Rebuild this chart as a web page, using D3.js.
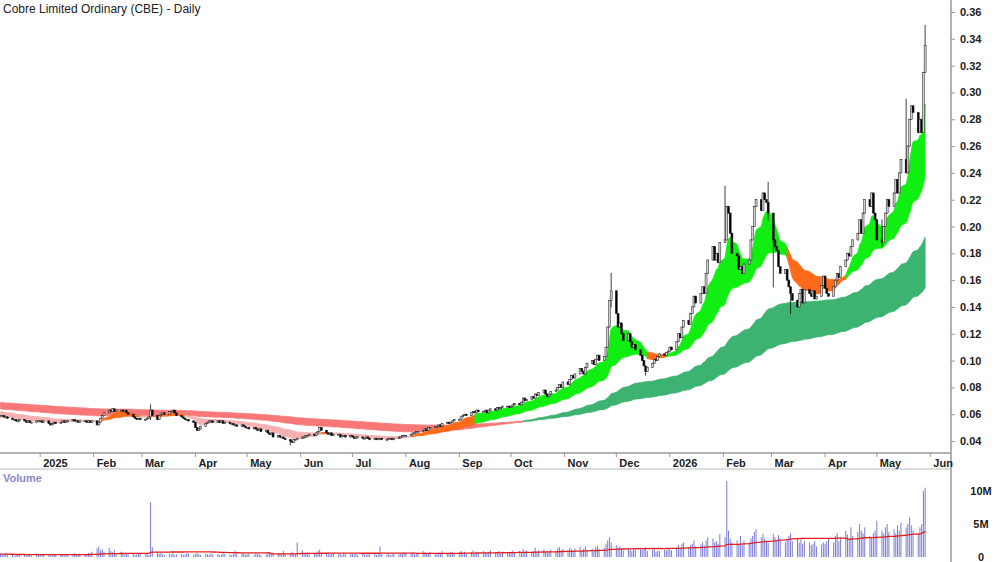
<!DOCTYPE html>
<html><head><meta charset="utf-8">
<script src="https://cdn.jsdelivr.net/npm/d3@7"></script>
<style>body{margin:0;background:#fff}svg{font-family:"Liberation Sans",Arial,sans-serif}</style>
</head><body><div id="chart"></div>
<script>
// closes in cents, one array per month (trading days from 2024-12-09)
const months = ["2024-12","2025-01","2025-02","2025-03","2025-04","2025-05","2025-06","2025-07","2025-08","2025-09","2025-10","2025-11","2025-12","2026-01","2026-02","2026-03","2026-04","2026-05"];
const closesByMonth = [
"5.9 5.9 5.8 5.8 5.7 5.6 5.6 5.5 5.5 5.6 5.5 5.4 5.5 5.4 5.4 5.5 5.5",
"5.5 5.4 5.5 5.3 5.2 5.3 5.4 5.3 5.4 5.5 5.4 5.5 5.5 5.6 5.5 5.5 5.4 5.5 5.5 5.4 5.5 5.4 5.5",
"5.2 5.4 5.7 5.9 6.1 6.3 6.2 6.4 6.2 6.3 6.3 6.2 6.3 6.1 6.0 5.8 5.7 5.6 5.7 5.6",
"5.6 5.7 5.8 6.3 5.9 5.6 5.9 6.0 6.1 6.0 6.2 6.2 6.3 6.1 5.9 5.8 5.7 5.6 5.6 5.5 5.4",
"5.0 4.8 4.9 5.1 5.3 5.4 5.5 5.5 5.4 5.5 5.4 5.5 5.3 5.4 5.3 5.3 5.2 5.2 5.1 5.2 5.1 5.0",
"5.0 4.9 5.0 4.9 4.8 4.9 4.7 4.8 4.6 4.5 4.6 4.3 4.4 4.3 4.3 4.2 4.1 4.0 3.9 4.1 4.1 4.2",
"4.3 4.3 4.4 4.4 4.5 4.4 4.6 4.7 5.0 4.8 4.6 4.5 4.6 4.4 4.5 4.5 4.3 4.4 4.4 4.3 4.4",
"4.3 4.2 4.3 4.3 4.2 4.2 4.3 4.2 4.1 4.2 4.1 4.2 4.2 4.1 4.1 4.2 4.2 4.1 4.2 4.3 4.3 4.4 4.4",
"4.4 4.5 4.6 4.6 4.7 4.7 4.8 4.9 4.8 5.0 5.0 5.1 5.1 5.2 5.1 5.3 5.4 5.3 5.4 5.5 5.6",
"5.6 5.8 5.9 6.0 5.9 6.1 6.2 6.1 6.3 6.2 6.2 6.3 6.1 6.3 6.4 6.3 6.5 6.4 6.5 6.6 6.6 6.5",
"6.6 6.7 6.8 6.7 6.9 7.2 7.0 7.1 7.3 7.2 7.5 7.4 7.6 7.8 7.5 7.3 7.5 7.7 7.8 8.0 8.2 8.0 8.4",
"8.2 8.6 8.9 8.7 9.0 9.4 9.2 9.0 9.5 9.8 10.0 9.7 10.1 10.4 10.0 10.3 11.0 12.5 14.5 15.2",
"13.5 12.5 12.8 12.0 11.5 12.0 11.4 11.0 11.2 10.8 10.4 10.0 9.6 9.2 9.5 9.8 10.1 10.0 10.3 10.5 10.4 10.6 10.7",
"11.0 10.8 11.4 12.0 11.7 12.5 13.0 12.7 13.5 14.0 14.8 14.3 15.0 15.5 15.0 16.5 17.5 18.5 17.5 18.0 17.3 18.8",
"19.0 21.5 21.0 19.5 18.0 17.8 16.8 17.0 16.5 17.2 17.5 19.0 20.0 21.5 22.0 21.2 22.5 22.0 21.8 21.0",
"19.0 18.5 18.2 17.0 16.5 16.8 16.0 15.5 15.0 14.5 14.0 15.0 15.3 14.3 15.3 15.0 14.8 15.2 14.6 14.8 15.6 16.3",
"15.4 15.0 14.8 15.5 16.0 16.5 16.2 17.0 17.5 18.0 17.8 18.5 19.0 19.5 20.5 19.5 21.0 22.0 21.5 22.5 21.0 20.5",
"19.0 18.8 20.0 21.0 22.0 21.5 22.5 23.5 22.5 24.0 25.0 24.0 26.0 28.0 29.0 28.5 27.0 28.0 27.0 31.5 33.5"
];
// volume in 0.1M units
const volumeByMonth = [
"5 4 3 6 4 3 2 4 3 5 3 2 4 3 2 6 4",
"4 3 5 3 2 4 3 5 3 4 2 5 3 4 6 3 4 5 3 4 6 5 8",
"13 16 10 12 8 14 9 7 11 6 8 5 4 6 4 5 3 4 5 6",
"4 5 3 83 15 7 5 6 4 3 5 4 6 3 4 5 3 4 6 5 3",
"5 6 4 3 5 4 3 6 4 5 3 4 6 5 4 3 5 10 4 6 5 4",
"4 5 3 6 4 5 3 4 6 5 4 7 5 6 4 9 5 6 8 5 4 22",
"10 6 5 7 4 5 6 9 11 6 5 7 4 5 6 4 5 3 6 4 5",
"5 4 6 3 5 4 3 6 4 5 3 4 16 5 4 6 3 4 5 4 6 5 7",
"6 5 8 4 6 5 9 7 5 6 8 4 6 7 5 9 6 5 8 7 6",
"7 9 6 8 5 7 10 6 8 5 9 7 6 8 10 6 7 9 5 8 7 6",
"8 10 7 9 6 12 8 10 7 9 14 8 10 12 7 9 8 11 9 13 15 10 12",
"10 14 12 9 13 15 10 12 16 11 13 10 15 17 12 14 20 25 30 22",
"18 14 16 12 10 13 11 9 12 10 14 11 13 15 9 11 12 8 10 9 11 10 12",
"12 10 15 18 12 20 22 15 18 20 25 16 19 22 17 25 30 28 22 24 20 35",
"30 115 40 28 22 25 20 32 18 25 22 28 32 38 42 30 35 28 25 22",
"35 30 25 33 28 22 27 32 36 24 28 22 26 20 24 22 18 20 24 16 19 22",
"20 24 28 22 32 36 24 30 40 34 28 45 32 38 50 40 36 45 32 30 36 40",
"55 40 36 45 50 38 42 36 48 40 52 45 50 60 48 40 36 45 50 100 105"
];
// notable wicks: [date, high, low]
const wicks = [["2025-03-06",0.067,0.056],["2025-05-26",0.041,0.037],["2025-11-28",0.165,0.140],["2025-12-18",0.096,0.089],
  ["2026-02-02",0.230,0.190],["2026-02-27",0.233,0.205],["2026-03-02",0.205,0.155],["2026-03-12",0.150,0.135],
  ["2026-05-04",0.205,0.185],["2026-05-18",0.295,0.270],["2026-05-29",0.350,0.315]];
const priceTicks = [0.04,0.06,0.08,0.10,0.12,0.14,0.16,0.18,0.20,0.22,0.24,0.26,0.28,0.30,0.32,0.34,0.36];
const volTicks = [[0,"0"],[5,"5M"],[10,"10M"]];
const shortPeriods = [8,12,17,22,28,36], shortSeeds = [0.057,0.058,0.059,0.060,0.061,0.062];
const longPeriods = [100,120,140,160,180,200], longSeeds = [0.064,0.0655,0.0665,0.0673,0.068,0.0688];

// build bars
const parse = d3.timeParse("%Y-%m-%d");
let bars = [];
months.forEach((m, mi) => {
  const start = parse(m + "-01");
  const days = d3.timeDay.range(start, d3.timeMonth.offset(start, 1)).filter(d => d.getDay() % 6 !== 0 && !(mi === 0 && d.getDate() < 9));
  const cs = closesByMonth[mi].split(" ").map(v => +v / 100);
  const vs = volumeByMonth[mi].split(" ").map(v => +v / 10);
  cs.forEach((c, i) => bars.push({date: days[i], close: c, vol: vs[i] || 0}));
});
bars.forEach((b, i) => {
  b.open = i ? bars[i - 1].close : 0.059;
  b.high = Math.max(b.open, b.close); b.low = Math.min(b.open, b.close);
});
const fmt = d3.timeFormat("%Y-%m-%d");
wicks.forEach(([d, h, l]) => { const b = bars.find(b => fmt(b.date) === d); if (b) { b.high = Math.max(h, b.high); b.low = Math.min(l, b.low); } });

function ema(period, seed) {
  const k = 2 / (period + 1); let e = seed;
  return bars.map(b => (e = b.close * k + e * (1 - k)));
}
const shortE = shortPeriods.map((p, i) => ema(p, shortSeeds[i]));
const longE = longPeriods.map((p, i) => ema(p, longSeeds[i]));
bars.forEach((b, i) => {
  const s = shortE.map(a => a[i]), l = longE.map(a => a[i]);
  b.sHi = d3.max(s); b.sLo = d3.min(s); b.lHi = d3.max(l); b.lLo = d3.min(l);
  b.lCol = longE[0][i] >= longE[5][i] ? "#3cb371" : "#f87878";
  const up = shortE[0][i] >= shortE[5][i];
  if (up) b.sCol = b.sLo < b.lHi ? "#ff6a1a" : "#11ee11";
  else b.sCol = b.sHi < b.lHi ? "#f5b0b0" : "#ff6a1a";
  const w = bars.slice(Math.max(0, i - 49), i + 1);
  b.vma = d3.mean(w, d => d.vol);
});

const W = 1000, H = 562, plotR = 951;
const svg = d3.select("#chart").append("svg").attr("width", W).attr("height", H);
const x = d3.scaleTime().domain([parse("2024-12-09"), parse("2026-06-13")]).range([0.5, plotR]);
const y = d3.scaleLinear().domain([0.04, 0.36]).range([441, 12]);
const yv = d3.scaleLinear().domain([0, 10]).range([557, 491]);

svg.append("text").attr("x", 3).attr("y", 13).attr("font-size", 12).attr("fill", "#222").text("Cobre Limited Ordinary (CBE) - Daily");

function band(hi, lo, col) {
  let runs = [], cur = null;
  bars.forEach(b => {
    if (!cur || cur.col !== b[col]) { if (cur) cur.pts.push(b); cur = {col: b[col], pts: [b]}; runs.push(cur); }
    else cur.pts.push(b);
  });
  const area = d3.area().x(d => x(d.date)).y0(d => y(d[lo])).y1(d => y(d[hi])).curve(d3.curveMonotoneX);
  svg.append("g").selectAll("path").data(runs).join("path")
    .attr("d", r => area(r.pts)).attr("fill", r => r.col).attr("stroke", r => r.col).attr("stroke-width", 0.8);
}
band("lHi", "lLo", "lCol");
band("sHi", "sLo", "sCol");

// candles
const cg = svg.append("g");
cg.selectAll("line").data(bars).join("line")
  .attr("x1", d => x(d.date)).attr("x2", d => x(d.date))
  .attr("y1", d => y(d.high) - 0.5).attr("y2", d => y(d.low) + 0.5).attr("stroke", "#111").attr("stroke-width", 0.8);
cg.selectAll("rect").data(bars).join("rect")
  .attr("x", d => x(d.date) - 1).attr("width", 2)
  .attr("y", d => y(Math.max(d.open, d.close)))
  .attr("height", d => Math.max(1, y(Math.min(d.open, d.close)) - y(Math.max(d.open, d.close))))
  .attr("fill", d => d.close >= d.open ? "#d0d0d0" : "#000").attr("stroke", "#222").attr("stroke-width", 0.5);

// frame lines
svg.append("line").attr("x1", plotR).attr("x2", plotR).attr("y1", 0).attr("y2", H).attr("stroke", "#999").attr("stroke-width", 1.5);
svg.append("line").attr("x1", 0).attr("x2", plotR).attr("y1", 453).attr("y2", 453).attr("stroke", "#999").attr("stroke-width", 1.5);
svg.append("line").attr("x1", 0).attr("x2", plotR).attr("y1", 469).attr("y2", 469).attr("stroke", "#bbb");

// price axis
const ya = svg.append("g").attr("transform", `translate(${plotR},0)`)
  .call(d3.axisRight(y).tickValues(priceTicks).tickFormat(d3.format(".2f")).tickSize(4));
ya.select(".domain").remove();
ya.selectAll("text").attr("font-size", 11).attr("font-weight", "bold").attr("fill", "#222").attr("dx", 2);
ya.selectAll("line").attr("stroke", "#999");

// time axis
const tickDates = d3.timeMonth.range(parse("2025-01-01"), parse("2026-06-02"));
const xa = svg.append("g").attr("transform", "translate(0,453)");
xa.selectAll("line").data(tickDates).join("line").attr("x1", d => x(d)).attr("x2", d => x(d)).attr("y1", 0).attr("y2", 4).attr("stroke", "#999");
xa.selectAll("text").data(tickDates).join("text").attr("x", d => x(d) + 3).attr("y", 14)
  .attr("font-size", 11).attr("font-weight", "bold").attr("fill", "#222")
  .text(d => d.getMonth() === 0 ? d.getFullYear() : d3.timeFormat("%b")(d));

// volume
svg.append("text").attr("x", 3).attr("y", 482).attr("font-size", 11).attr("font-weight", "bold").attr("fill", "#8a8acc").text("Volume");
svg.append("g").selectAll("line").data(bars).join("line")
  .attr("x1", d => x(d.date)).attr("x2", d => x(d.date)).attr("y1", yv(0)).attr("y2", d => yv(d.vol))
  .attr("stroke", "#7c7cd6").attr("stroke-width", 1);
svg.append("path").datum(bars).attr("fill", "none").attr("stroke", "#e02020").attr("stroke-width", 1.3)
  .attr("d", d3.line().x(d => x(d.date)).y(d => yv(d.vma)));
const va = svg.append("g").attr("transform", `translate(${plotR},0)`);
va.selectAll("text").data(volTicks).join("text").attr("x", 30).attr("y", d => yv(d[0]) + 4).attr("text-anchor", "middle")
  .attr("font-size", 11).attr("font-weight", "bold").attr("fill", "#222").text(d => d[1]);
</script></body></html>
